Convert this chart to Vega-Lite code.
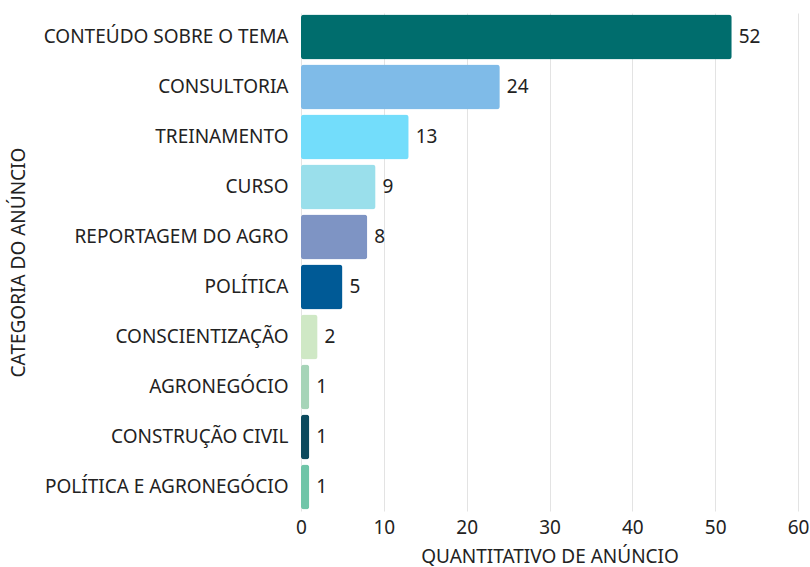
{
  "$schema": "https://vega.github.io/schema/vega-lite/v6.json",
  "autosize": {"type": "none"},
  "padding": {"left": 301, "top": 13, "right": 12, "bottom": 56},
  "width": 497,
  "height": 498,
  "config": {
    "font": "Noto Sans",
    "view": {"stroke": null},
    "axis": {"labelFont": "Noto Sans", "titleFont": "Noto Sans", "labelColor": "#222222", "titleColor": "#222222", "titleFontWeight": "normal", "labelFontSize": 19, "titleFontSize": 19}
  },
  "data": {
    "values": [
      {"categoria": "CONTEÚDO SOBRE O TEMA", "qtd": 52, "cor": "#006D6D"},
      {"categoria": "CONSULTORIA", "qtd": 24, "cor": "#7FBBE8"},
      {"categoria": "TREINAMENTO", "qtd": 13, "cor": "#73DDFB"},
      {"categoria": "CURSO", "qtd": 9, "cor": "#9ADFEB"},
      {"categoria": "REPORTAGEM DO AGRO", "qtd": 8, "cor": "#7E94C4"},
      {"categoria": "POLÍTICA", "qtd": 5, "cor": "#005A96"},
      {"categoria": "CONSCIENTIZAÇÃO", "qtd": 2, "cor": "#CFE8C5"},
      {"categoria": "AGRONEGÓCIO", "qtd": 1, "cor": "#A6D4B8"},
      {"categoria": "CONSTRUÇÃO CIVIL", "qtd": 1, "cor": "#0C4A5E"},
      {"categoria": "POLÍTICA E AGRONEGÓCIO", "qtd": 1, "cor": "#6FC5A8"}
    ]
  },
  "encoding": {
    "y": {
      "field": "categoria", "type": "nominal", "sort": null,
      "scale": {"paddingInner": 0.1, "paddingOuter": 0.03},
      "axis": {"title": "CATEGORIA DO ANÚNCIO", "ticks": false, "domain": false, "labelPadding": 13, "grid": false, "labelLimit": 400, "titleX": -283, "titleY": 249, "titleAngle": -90, "titleBaseline": "middle", "titleAlign": "center", "titleAnchor": "middle"}
    },
    "x": {
      "field": "qtd", "type": "quantitative",
      "scale": {"domain": [0, 60]},
      "axis": {"title": "QUANTITATIVO DE ANÚNCIO", "values": [0, 10, 20, 30, 40, 50, 60], "ticks": false, "domain": false, "grid": true, "gridColor": "#e3e3e3", "labelPadding": 7, "titlePadding": 10, "labelFlush": false}
    }
  },
  "layer": [
    {
      "mark": {"type": "bar", "cornerRadius": 3},
      "encoding": {"color": {"field": "cor", "type": "nominal", "scale": null}}
    },
    {
      "mark": {"type": "text", "align": "left", "dx": 7, "fontSize": 19, "color": "#222222", "font": "Noto Sans"},
      "encoding": {"text": {"field": "qtd", "type": "quantitative"}}
    }
  ]
}
